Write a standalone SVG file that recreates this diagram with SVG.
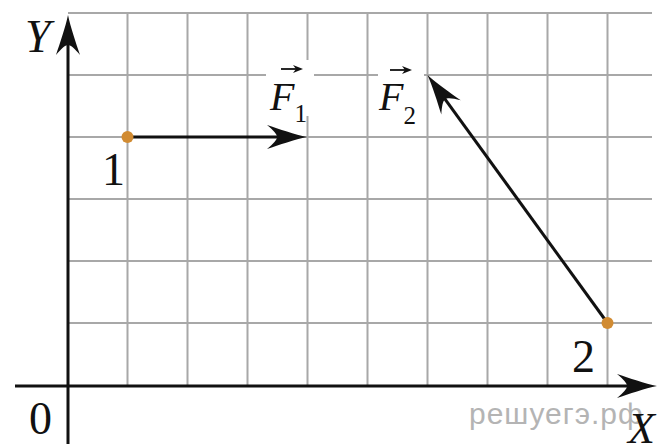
<svg xmlns="http://www.w3.org/2000/svg" width="660" height="444" viewBox="0 0 660 444">
<style>
.grid{stroke:#a8a8a8;stroke-width:2;fill:none}
.axis{stroke:#111;stroke-width:3;fill:none}
.vec{stroke:#111;stroke-width:3;fill:none}
.lbl{font-family:"Liberation Serif","Times New Roman",serif;fill:#111}
.it{font-style:italic}
.wm{font-family:"Liberation Sans",Arial,sans-serif;fill:#b4b4b4;font-size:30px;letter-spacing:1px}
.dot{fill:#d18b32}
.bg{fill:#fff}
</style>
<defs>
<marker id="arrow" markerUnits="userSpaceOnUse" markerWidth="44" markerHeight="26" viewBox="0 0 44 26" refX="32" refY="13" orient="auto">
<path d="M42,13 C30,10.5 14,5 2,1 C8,6 12,10 12,13 C12,16 8,20 2,25 C14,21 30,15.5 42,13 Z" fill="#111"/>
</marker>
<marker id="small" markerUnits="userSpaceOnUse" markerWidth="12" markerHeight="10" viewBox="0 0 12 10" refX="8" refY="5" orient="auto">
<path d="M11,5 L1,1 L4,5 L1,9 Z" fill="#111"/>
</marker>
</defs>
<rect width="660" height="444" fill="#fff"/>
<g id="grid">
<path class="grid" d="M127.5,13V386M187.5,13V386M247.5,13V386M307.5,13V386M367.5,13V386M427.5,13V386M487.5,13V386M547.5,13V386M607.5,13V386"/>
<path class="grid" d="M68,13H652M68,75H652M68,137H652M68,199H652M68,261H652M68,323H652"/>
</g>
<g id="label-bg">
<rect class="bg" x="266" y="60" width="48" height="56"/>
<rect class="bg" x="378" y="60" width="46" height="70"/>
</g>
<g id="connectors">
<line id="y-axis" class="axis" x1="68" y1="444" x2="68" y2="25" marker-end="url(#arrow)"/>
<line id="x-axis" class="axis" x1="15" y1="386" x2="647" y2="386" marker-end="url(#arrow)"/>
<line id="F1" class="vec" x1="127.5" y1="137" x2="297" y2="137" marker-end="url(#arrow)"/>
<line id="F2" class="vec" x1="607.5" y1="323" x2="433.4" y2="83.1" marker-end="url(#arrow)"/>
</g>
<g id="point1">
<circle class="dot" cx="127.5" cy="137" r="6"/>
<text class="lbl" x="102" y="185" font-size="46">1</text>
</g>
<g id="point2">
<circle class="dot" cx="607.5" cy="323" r="6"/>
<text class="lbl" x="572" y="372" font-size="46">2</text>
</g>
<g id="label-F1">
<text class="lbl" x="270" y="110"><tspan class="it" font-size="40">F</tspan><tspan font-size="25" dy="12">1</tspan></text>
<line x1="281" y1="69" x2="300" y2="69" stroke="#111" stroke-width="1.8" marker-end="url(#small)"/>
</g>
<g id="label-F2">
<text class="lbl" x="379" y="110"><tspan class="it" font-size="40">F</tspan><tspan font-size="25" dy="14">2</tspan></text>
<line x1="390" y1="70" x2="409" y2="70" stroke="#111" stroke-width="1.8" marker-end="url(#small)"/>
</g>
<g id="axis-labels">
<text class="lbl it" x="25" y="52" font-size="46">Y</text>
<text class="wm" x="469" y="424">решуегэ.рф</text>
<text class="lbl it" x="628" y="443" font-size="44">X</text>
<text class="lbl" x="29" y="434" font-size="46">0</text>
</g>
</svg>
